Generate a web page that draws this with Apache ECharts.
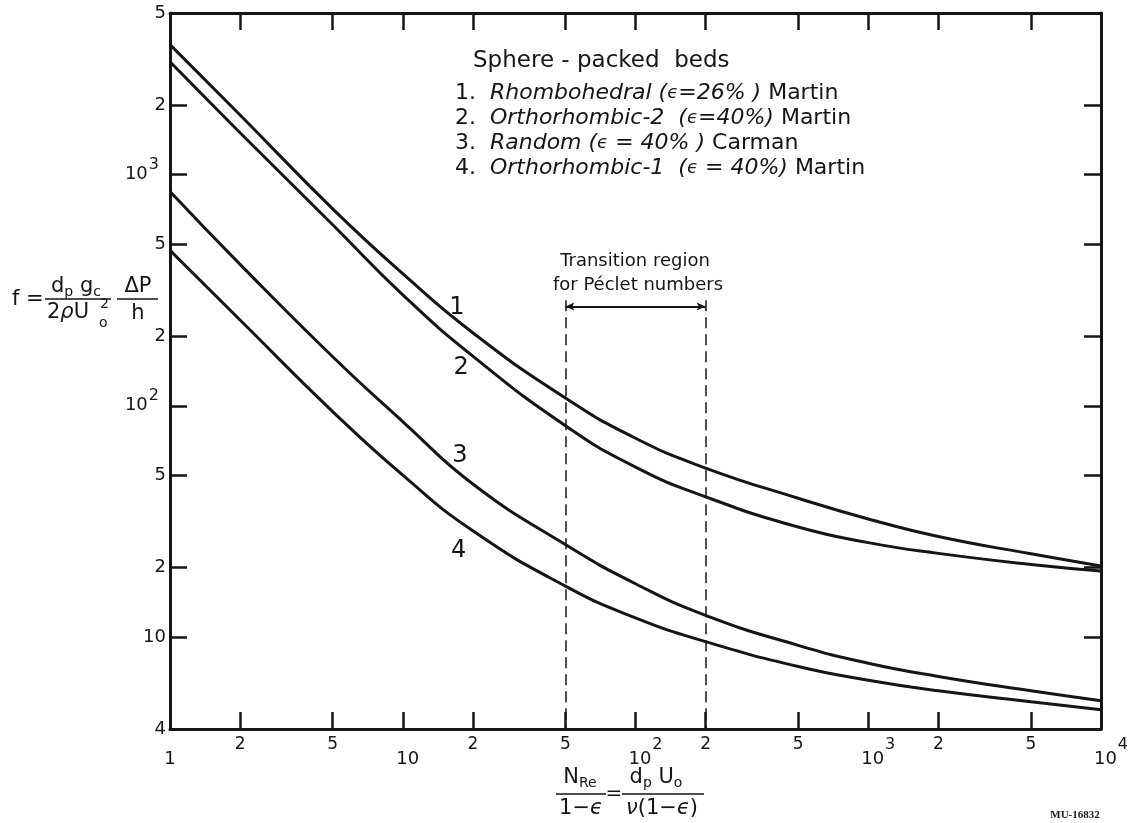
<!DOCTYPE html>
<html>
<head>
<meta charset="utf-8">
<script src="https://cdn.jsdelivr.net/npm/echarts@6/dist/echarts.min.js"></script>
<style>html,body{margin:0;padding:0;background:#fff}#c{width:1132px;height:823px}</style>
</head>
<body>
<div id="c"></div>
<script>
// ---------- data ----------
const reValues = [1, 2, 5, 10, 20, 50, 100, 200, 500, 1000, 2000, 5000, 10000];
const curve1 = [3650, 1811, 711, 373, 207, 108, 72.4, 53.8, 39.8, 32.4, 27.2, 22.9, 20.3];
const curve2 = [3076, 1517, 607, 302, 164, 82, 54.3, 40.4, 29.9, 25.6, 23.0, 20.6, 19.3];
const curve3 = [845, 409, 163, 85.5, 45.9, 25.1, 17.0, 12.4, 9.2, 7.7, 6.75, 5.85, 5.3];
const curve4 = [470, 235, 94.4, 50.1, 28.8, 16.6, 12.1, 9.55, 7.45, 6.5, 5.85, 5.25, 4.84];
const curveNames = ['1', '2', '3', '4'];
const curveLabelAt = [[17.1, 266], [17.8, 146.6], [17.6, 61.1], [17.4, 23.5]];

const xTickValues = [2, 5, 10, 20, 50, 100, 200, 500, 1000, 2000, 5000];
const xLabelValues = [1, 2, 5, 10, 20, 50, 100, 200, 500, 1000, 2000, 5000, 10000];
const xLabelTexts = ['1', '2', '5', '10', '2', '5', '10^2', '2', '5', '10^3', '2', '5', '10^4'];
const yTickValues = [10, 20, 50, 100, 200, 500, 1000, 2000];
const yLabelValues = [4, 10, 20, 50, 100, 200, 500, 1000, 2000, 5000];
const yLabelTexts = ['4', '10', '2', '5', '10^2', '2', '5', '10^3', '2', '5'];

const transitionRange = [50, 200];      // Re/(1-eps) limits of the Peclet transition region
const transitionTop = 286;              // f value where the dashed bracket starts
const transitionArrowAt = 269;          // f value of the double arrow
const axisMin = {x: 1, y: 4};
const axisMax = {x: 10000, y: 5000};

// ---------- helpers ----------
const FONT = 'DejaVu Sans';
const INK = '#151515';
function lookup(vals, labels, v) {
  for (let i = 0; i < vals.length; i++) {
    if (Math.abs(vals[i] - v) <= 1e-6 * vals[i]) return labels[i];
  }
  return '';
}
function richX(raw) {
  if (raw === '1') return '{o|1}';
  if (raw === '10') return '{t|10}';
  if (raw.indexOf('^') > 0) { const p = raw.split('^'); return '{d|' + p[0] + '}{s|' + p[1] + '}'; }
  return '{m|' + raw + '}';
}
function richY(raw) {
  if (raw.indexOf('^') > 0) { const p = raw.split('^'); return '{d|' + p[0] + '}{s|' + p[1] + '}'; }
  return '{m|' + raw + '}';
}
function pairs(ys) { return reValues.map((x, i) => [x, ys[i]]); }

const lineAxis = {lineStyle: {color: INK, width: 3}};
const tickStyle = {color: INK, width: 2.5};

const xRich = {
  o: {fontFamily: FONT, fontSize: 18, color: INK, lineHeight: 16, padding: [14, 0, 2, 0]},
  t: {fontFamily: FONT, fontSize: 18, color: INK, lineHeight: 16, padding: [14, 0, 2, 10]},
  d: {fontFamily: FONT, fontSize: 18, color: INK, lineHeight: 16, padding: [14, 0, 2, 20]},
  s: {fontFamily: FONT, fontSize: 16, color: INK, lineHeight: 16, padding: [0, 0, 16, 1]},
  m: {fontFamily: FONT, fontSize: 17, color: INK, lineHeight: 16, padding: [0, 0, 16, 0]}
};
const yRich = {
  m: {fontFamily: FONT, fontSize: 18, color: INK, lineHeight: 18},
  d: {fontFamily: FONT, fontSize: 18, color: INK, lineHeight: 18},
  s: {fontFamily: FONT, fontSize: 16, color: INK, lineHeight: 14, padding: [0, 7, 20, 1]}
};

function curveSeries(name, ys, idx, extra) {
  const s = {
    name: 'curve ' + name,
    type: 'line',
    data: pairs(ys),
    smooth: 0.5,
    showSymbol: false,
    symbol: 'none',
    lineStyle: {color: INK, width: 3},
    silent: true,
    markPoint: {
      symbol: 'circle', symbolSize: 0, silent: true,
      label: {show: true, position: 'inside', formatter: name, fontFamily: FONT, fontSize: 24, color: INK},
      data: [{coord: curveLabelAt[idx]}]
    }
  };
  return Object.assign(s, extra || {});
}

const dashed = {color: INK, width: 1.5, type: [11, 6]};
const transitionMark = {
  silent: true,
  symbol: ['none', 'none'],
  label: {show: false},
  lineStyle: dashed,
  data: [
    [{coord: [transitionRange[0], transitionTop]}, {coord: [transitionRange[0], axisMin.y]}],
    [{coord: [transitionRange[1], transitionTop]}, {coord: [transitionRange[1], axisMin.y]}],
    [{coord: [transitionRange[0], transitionArrowAt], symbol: 'arrow', symbolSize: [6, 9], lineStyle: {type: 'solid', width: 1.8, color: INK}},
     {coord: [transitionRange[1], transitionArrowAt], symbol: 'arrow', symbolSize: [6, 9]}]
  ]
};

const txt = (x, y, text, size, align) => ({
  type: 'text', x: x, y: y, silent: true,
  style: {text: text, fontFamily: FONT, fontSize: size, fill: INK, align: align || 'left', verticalAlign: 'middle'}
});
const hline = (x1, x2, y, w) => ({type: 'line', silent: true, shape: {x1: x1, y1: y, x2: x2, y2: y}, style: {stroke: INK, lineWidth: w || 1.6}});

const legendRich = {
  n: {fontFamily: FONT, fontSize: 22, color: INK},
  i: {fontFamily: FONT, fontSize: 22, color: INK, fontStyle: 'italic'},
  e: {fontFamily: FONT, fontSize: 18, color: INK, fontStyle: 'italic'}
};
function richText(x, y, text, rich, align) {
  return {type: 'text', x: x, y: y, silent: true,
    style: {text: text, rich: rich, fontFamily: FONT, fontSize: 21, fill: INK, align: align || 'left', verticalAlign: 'middle'}};
}
const mathRich = {
  a: {fontFamily: FONT, fontSize: 21, color: INK},
  b: {fontFamily: FONT, fontSize: 14, color: INK, padding: [10, 0, 0, 0]},
  g: {fontFamily: FONT, fontSize: 21, color: INK, fontStyle: 'italic'}
};

const option = {
  animation: false,
  backgroundColor: '#ffffff',
  grid: {left: 170, right: 31, top: 13, bottom: 94, containLabel: false},
  xAxis: [
    {type: 'log', logBase: 10, min: axisMin.x, max: axisMax.x, position: 'bottom',
     axisLine: lineAxis, splitLine: {show: false}, minorTick: {show: false},
     axisTick: {show: true, inside: true, length: 17, lineStyle: tickStyle, customValues: xTickValues},
     axisLabel: {show: true, margin: 16, customValues: xLabelValues, rich: xRich,
       formatter: v => richX(lookup(xLabelValues, xLabelTexts, v))}},
    {type: 'log', logBase: 10, min: axisMin.x, max: axisMax.x, position: 'top',
     axisLine: lineAxis, splitLine: {show: false}, minorTick: {show: false},
     axisTick: {show: true, inside: true, length: 17, lineStyle: tickStyle, customValues: xTickValues},
     axisLabel: {show: false}}
  ],
  yAxis: [
    {type: 'log', logBase: 10, min: axisMin.y, max: axisMax.y, position: 'left',
     axisLine: lineAxis, splitLine: {show: false}, minorTick: {show: false},
     axisTick: {show: true, inside: true, length: 17, lineStyle: tickStyle, customValues: yTickValues},
     axisLabel: {show: true, margin: 4, customValues: yLabelValues, rich: yRich,
       formatter: v => richY(lookup(yLabelValues, yLabelTexts, v))}},
    {type: 'log', logBase: 10, min: axisMin.y, max: axisMax.y, position: 'right',
     axisLine: lineAxis, splitLine: {show: false}, minorTick: {show: false},
     axisTick: {show: true, inside: true, length: 17, lineStyle: tickStyle, customValues: yTickValues},
     axisLabel: {show: false}}
  ],
  series: [
    curveSeries(curveNames[0], curve1, 0, {markLine: transitionMark}),
    curveSeries(curveNames[1], curve2, 1),
    curveSeries(curveNames[2], curve3, 2),
    curveSeries(curveNames[3], curve4, 3)
  ],
  graphic: [
    // legend block
    txt(473, 61, 'Sphere - packed  beds', 23),
    richText(455, 93, '{n|1.  }{i|Rhombohedral (}{e|ϵ}{i|=26% ) }{n|Martin}', legendRich),
    richText(455, 118, '{n|2.  }{i|Orthorhombic-2  (}{e|ϵ}{i|=40%) }{n|Martin}', legendRich),
    richText(455, 143, '{n|3.  }{i|Random (}{e|ϵ}{i| = 40% ) }{n|Carman}', legendRich),
    richText(455, 168, '{n|4.  }{i|Orthorhombic-1  (}{e|ϵ}{i| = 40%) }{n|Martin}', legendRich),
    // transition note
    txt(635, 261, 'Transition region', 18, 'center'),
    txt(638, 285, 'for Péclet numbers', 18, 'center'),
    // y axis title  f = dp gc / (2 rho Uo^2) * dP / h
    txt(12, 300, 'f =', 21),
    richText(76, 287, '{a|d}{b|p} {a|g}{b|c}', mathRich, 'center'),
    hline(45, 111, 299),
    richText(47, 313, '{a|2}{g|ρ}{a|U}', mathRich, 'left'),
    txt(99, 323, 'o', 14),
    txt(100, 304, '2', 14),
    richText(138, 287, '{a|ΔP}', mathRich, 'center'),
    hline(117, 158, 299),
    richText(138, 314, '{a|h}', mathRich, 'center'),
    // x axis title  NRe/(1-eps) = dp Uo / nu(1-eps)
    richText(580, 778, '{a|N}{b|Re}', mathRich, 'center'),
    hline(556, 606, 794),
    richText(581, 809, '{a|1}{a|−}{g|ϵ}', mathRich, 'center'),
    txt(614, 794, '=', 20, 'center'),
    richText(656, 778, '{a|d}{b|p} {a|U}{b|o}', mathRich, 'center'),
    hline(622, 704, 794),
    richText(662, 809, '{g|ν}{a|(1−}{g|ϵ}{a|)}', mathRich, 'center'),
    // figure id
    {type: 'text', x: 1075, y: 815, silent: true,
     style: {text: 'MU-16832', fontFamily: 'Liberation Serif', fontWeight: 'bold', fontSize: 11, fill: INK, align: 'center', verticalAlign: 'middle'}}
  ]
};

const chart = echarts.init(document.getElementById('c'), null, {renderer: 'canvas'});
chart.setOption(option);
</script>
</body>
</html>
